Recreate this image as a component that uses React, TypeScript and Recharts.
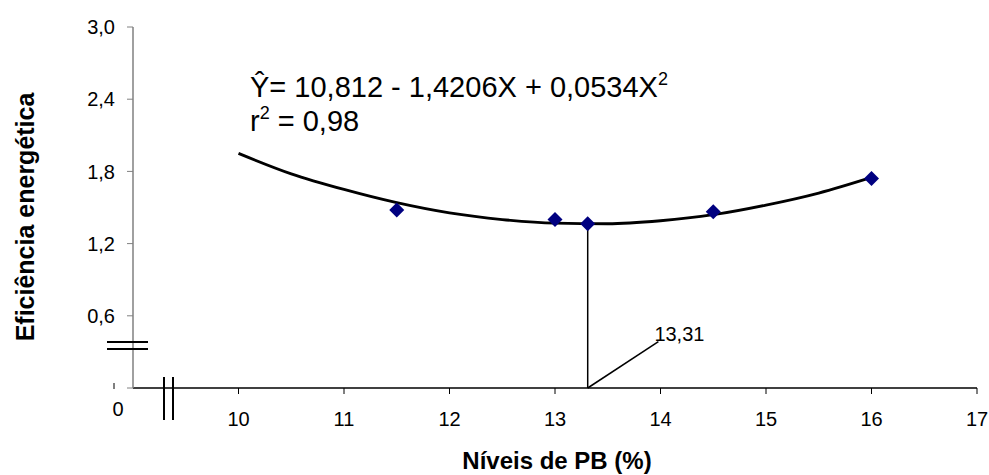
import {
  ComposedChart,
  Line,
  Scatter,
  XAxis,
  YAxis,
  ReferenceLine,
  ReferenceDot,
  Label,
} from 'recharts';

const FONT = '"Liberation Sans", Arial, sans-serif';

// observed means (Níveis de PB vs eficiência energética)
const obsX = [11.5, 13, 13.31, 14.5, 16];
const obsY = [1.48, 1.4, 1.365, 1.465, 1.74];

// fitted quadratic curve
const fitX = [10, 10.5, 11, 11.5, 12, 12.5, 13, 13.5, 14, 14.5, 15, 15.5, 16];
const fitY = [1.95, 1.78, 1.65, 1.54, 1.455, 1.4, 1.37, 1.365, 1.39, 1.44, 1.52, 1.62, 1.75];

const xTicks = [9, 10, 11, 12, 13, 14, 15, 16, 17];
const yTicks = [0, 0.6, 1.2, 1.8, 2.4, 3.0];

// minimum point and its callout
const minX = 13.31;
const minY = 1.365;
const calloutX = 13.98;
const calloutY = 0.386;
const minLabel = '13,31';

const obsData = obsX.map((x, i) => ({ x, y: obsY[i] }));
const fitData = fitX.map((x, i) => ({ x, y: fitY[i] }));

const Diamond = (props: any) => {
  const { cx, cy } = props;
  const r = 7.5;
  return (
    <polygon
      points={`${cx},${cy - r} ${cx + r},${cy} ${cx},${cy + r} ${cx - r},${cy}`}
      fill="#000080"
    />
  );
};

const XTick = (props: any) => {
  const { x, y, payload } = props;
  if (payload.value === 9) {
    return (
      <text x={x - 15} y={y + 28} textAnchor="middle" fontSize={20} fontFamily={FONT} fill="#000">
        0
      </text>
    );
  }
  return (
    <g>
      <line x1={x} y1={y} x2={x} y2={y + 6} stroke="#000" strokeWidth={1} />
      <text x={x} y={y + 38} textAnchor="middle" fontSize={20} fontFamily={FONT} fill="#000">
        {payload.value}
      </text>
    </g>
  );
};

const fmtY = (v: number) => (v === 0 ? '' : v.toFixed(1).replace('.', ','));

export default function App() {
  return (
    <div style={{ position: 'absolute', left: 0, top: 0, width: 989, height: 475, background: '#fff' }}>
      <ComposedChart
        width={989}
        height={475}
        margin={{ top: 27, right: 12, left: 0, bottom: 0 }}
      >
        <XAxis
          type="number"
          dataKey="x"
          domain={[9, 17]}
          ticks={xTicks}
          allowDataOverflow
          height={87}
          tickLine={false}
          tickSize={0}
          tickMargin={0}
          tick={<XTick />}
          axisLine={{ stroke: '#000', strokeWidth: 1.5 }}
        >
          <Label
            content={() => (
              <text x={557} y={469} textAnchor="middle" fontSize={24} fontWeight="bold" fontFamily={FONT} fill="#000">
                Níveis de PB (%)
              </text>
            )}
          />
        </XAxis>
        <YAxis
          type="number"
          domain={[0, 3]}
          ticks={yTicks}
          width={133}
          tickFormatter={fmtY}
          tickSize={6}
          tickMargin={12}
          tick={{ fontSize: 20, fontFamily: FONT, fill: '#000' }}
          tickLine={{ stroke: '#808080' }}
          axisLine={{ stroke: '#808080', strokeWidth: 1.5 }}
        >
          <Label
            content={() => (
              <text
                x={34}
                y={217}
                transform="rotate(-90 34 217)"
                textAnchor="middle"
                fontSize={25}
                fontWeight="bold"
                fontFamily={FONT}
                fill="#000"
              >
                Eficiência energética
              </text>
            )}
          />
        </YAxis>
        <ReferenceLine
          segment={[{ x: minX, y: 0 }, { x: minX, y: minY }]}
          stroke="#000"
          strokeWidth={1.5}
        />
        <ReferenceLine
          segment={[{ x: minX, y: 0 }, { x: calloutX, y: calloutY }]}
          stroke="#000"
          strokeWidth={1.5}
        />
        <ReferenceDot
          x={calloutX}
          y={calloutY}
          r={0}
          fill="none"
          stroke="none"
          label={{
            content: (p: any) => (
              <text x={p.viewBox.x - 4} y={p.viewBox.y - 1} fontSize={20} fontFamily={FONT} fill="#000">
                {minLabel}
              </text>
            ),
          }}
        />
        <Scatter data={obsData} dataKey="y" shape={<Diamond />} isAnimationActive={false} />
        <Line
          data={fitData}
          dataKey="y"
          type="monotone"
          stroke="#000"
          strokeWidth={2.8}
          dot={false}
          activeDot={false}
          isAnimationActive={false}
        />
      </ComposedChart>
      <svg
        width={989}
        height={475}
        style={{ position: 'absolute', left: 0, top: 0, pointerEvents: 'none' }}
      >
        {/* axis break marks */}
        <line x1={107} y1={342} x2={148} y2={342} stroke="#000" strokeWidth={2} />
        <line x1={107} y1={349} x2={148} y2={349} stroke="#000" strokeWidth={2} />
        <line x1={164} y1={377} x2={164} y2={420} stroke="#000" strokeWidth={2} />
        <line x1={173} y1={377} x2={173} y2={420} stroke="#000" strokeWidth={2} />
        <line x1={114} y1={383} x2={114} y2={389} stroke="#000" strokeWidth={1} />
        <text x={250} y={97} fontSize={29} fontFamily={FONT} fill="#000">
          Ŷ= 10,812 - 1,4206X + 0,0534X
          <tspan fontSize={18} dy={-12}>2</tspan>
        </text>
        <text x={250} y={131} fontSize={29} fontFamily={FONT} fill="#000">
          r<tspan fontSize={18} dy={-12}>2</tspan>
          <tspan dy={12}> = 0,98</tspan>
        </text>
      </svg>
    </div>
  );
}
